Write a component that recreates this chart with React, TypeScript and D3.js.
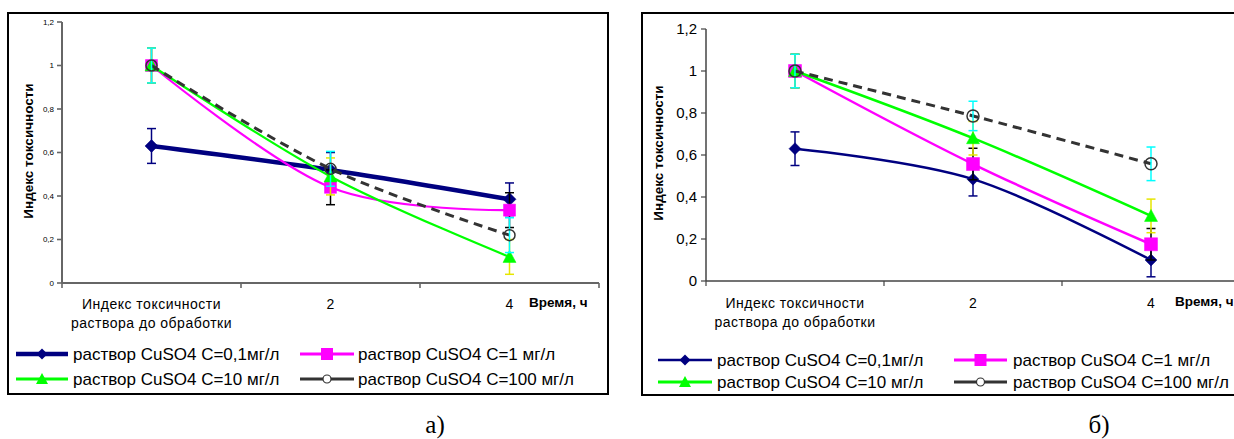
import React from "react";
import * as d3 from "d3";

// ---------- data ----------
const categories = ["Индекс токсичности|раствора до обработки", "2", "4"];
const seriesNames = [
  "раствор CuSO4 C=0,1мг/л",
  "раствор CuSO4 C=1 мг/л",
  "раствор CuSO4 C=10 мг/л",
  "раствор CuSO4 C=100 мг/л",
];
const yTicks = [0, 0.2, 0.4, 0.6, 0.8, 1, 1.2];
const yTickLabels = ["0", "0,2", "0,4", "0,6", "0,8", "1", "1,2"];
const yAxisTitle = "Индекс токсичности";
const xAxisTitle = "Время, ч";

// chart а)
const a_c01 = [0.63, 0.52, 0.385];
const a_c1 = [1.0, 0.44, 0.335];
const a_c10 = [1.0, 0.49, 0.12];
const a_c100 = [1.0, 0.525, 0.22];
const a_err01 = [0.08, 0.08, 0.075];
const a_err1 = [0.08, 0.08, 0.08];
const a_err10 = [0.08, 0.085, 0.08];
const a_err100 = [0.08, 0.08, 0.08];

// chart б)
const b_c01 = [0.63, 0.485, 0.1];
const b_c1 = [1.0, 0.557, 0.175];
const b_c10 = [1.0, 0.68, 0.31];
const b_c100 = [1.0, 0.786, 0.558];
const b_err01 = [0.08, 0.08, 0.08];
const b_err1 = [0.08, 0.075, 0.075];
const b_err10 = [0.08, 0.08, 0.08];
const b_err100 = [0.08, 0.07, 0.08];

const captions = ["а)", "б)"];

// ---------- styles ----------
const lineColors = ["#000080", "#FF00FF", "#00FF00", "#333333"];
const errColors = ["#000080", "#000000", "#E6E600", "#00FFFF"];
const markerKinds = ["diamond", "square", "triangle", "circle"];
const FONT = "'Liberation Sans', Arial, sans-serif";
const SERIF = "'Liberation Serif', 'Times New Roman', serif";

function markerPath(kind: string, s: number): string {
  if (kind === "diamond") return `M0,${-s}L${s},0L0,${s}L${-s},0Z`;
  if (kind === "square") return `M${-s},${-s}H${s}V${s}H${-s}Z`;
  if (kind === "triangle") return `M0,${-s}L${s},${s * 0.85}L${-s},${s * 0.85}Z`;
  return "";
}

function Marker({ kind, x, y, s, color }: any) {
  if (kind === "circle") {
    return <circle cx={x} cy={y} r={s} fill="none" stroke="#333333" strokeWidth={1.5} />;
  }
  return <path d={markerPath(kind, s)} transform={`translate(${x},${y})`} fill={color} stroke={color} strokeWidth={0.5} />;
}

function Chart({ L, series, errors }: any) {
  const x = d3.scaleBand<number>().domain([0, 1, 2]).range([L.x0, L.x1]).padding(0);
  const y = d3.scaleLinear().domain([0, 1.2]).range([L.yBottom, L.yTop]);
  const bw = x.bandwidth();
  const cx = (i: number) => (x(i) as number) + bw / 2;
  const line = d3
    .line<number>()
    .x((_, i) => cx(i))
    .y((d) => y(d))
    .curve(d3.curveCardinal.tension(0));
  const boundaries = [0, 1, 2, 3].map((i) => L.x0 + i * bw);
  const [fx, fy, fw, fh] = L.frame;
  const msz = [L.mDiamond, L.mSquare, L.mTriangle, L.mCircle];

  return (
    <g>
      <rect x={fx} y={fy} width={fw} height={fh} fill="#fff" stroke="#000" strokeWidth={2} />
      {/* y axis */}
      <line x1={L.x0} x2={L.x0} y1={y(1.2)} y2={y(0)} stroke={L.axisColor} strokeWidth={L.axisWidth} />
      {yTicks.map((t, i) => (
        <g key={i}>
          <line x1={L.x0 - 5} x2={L.x0} y1={y(t)} y2={y(t)} stroke={L.axisColor} strokeWidth={L.axisWidth * 0.8} />
          <text x={L.tickLabelX} y={y(t)} dy="0.35em" textAnchor="end" fontFamily={FONT} fontSize={L.tickFont} fill="#000">
            {yTickLabels[i]}
          </text>
        </g>
      ))}
      {/* x axis */}
      <line x1={L.x0} x2={L.x1} y1={y(0)} y2={y(0)} stroke={L.axisColor} strokeWidth={L.axisWidth} />
      {boundaries.map((b, i) => (
        <line key={i} x1={b} x2={b} y1={y(0)} y2={y(0) + 5} stroke={L.axisColor} strokeWidth={L.axisWidth * 0.8} />
      ))}
      {categories.map((c, i) =>
        c.split("|").map((ln, j) => (
          <text key={`${i}-${j}`} x={cx(i)} y={j === 0 ? L.catY1 : L.catY2} dy="0.35em" textAnchor="middle"
            fontFamily={FONT} fontSize={L.catFont} letterSpacing={i === 0 ? 0.5 : 0} fill="#000">
            {ln}
          </text>
        ))
      )}
      <text x={L.xTitleX} y={L.catY1 - 2} dy="0.35em" fontFamily={FONT} fontSize={L.titleFont} fontWeight="bold" fill="#000">
        {xAxisTitle}
      </text>
      <text transform={`translate(${L.yTitle[0]},${L.yTitle[1]}) rotate(-90)`} textAnchor="middle" dy="0.35em"
        fontFamily={FONT} fontSize={L.titleFont} fontWeight="bold" fill="#000">
        {yAxisTitle}
      </text>
      {/* series */}
      {series.map((vals: number[], si: number) => (
        <g key={si}>
          <path d={line(vals) as string} fill="none" stroke={lineColors[si]}
            strokeWidth={si === 0 ? L.blueWidth : si === 3 ? L.dashWidth : L.otherWidth}
            strokeDasharray={si === 3 ? "9,6" : undefined} />
          {vals.map((v, i) => {
            const e = errors[si][i];
            const px = cx(i);
            return (
              <g key={i} stroke={errColors[si]} strokeWidth={1.5}>
                <line x1={px} x2={px} y1={y(v + e)} y2={y(v - e)} />
                <line x1={px - 4.5} x2={px + 4.5} y1={y(v + e)} y2={y(v + e)} />
                <line x1={px - 4.5} x2={px + 4.5} y1={y(v - e)} y2={y(v - e)} />
              </g>
            );
          })}
          {vals.map((v, i) => (
            <Marker key={`m${i}`} kind={markerKinds[si]} x={cx(i)} y={y(v)} s={msz[si]} color={lineColors[si]} />
          ))}
        </g>
      ))}
      {/* legend */}
      {seriesNames.map((name, si) => {
        const col = L.legendCols[si % 2];
        const ry = L.legendRows[Math.floor(si / 2)];
        const mx = (col.l0 + col.l1) / 2;
        return (
          <g key={`lg${si}`}>
            <line x1={col.l0} x2={col.l1} y1={ry} y2={ry} stroke={lineColors[si]}
              strokeWidth={si === 0 ? L.blueWidth : 3} />
            {markerKinds[si] === "circle" ? (
              <circle cx={mx} cy={ry} r={4} fill="#fff" stroke="#333" strokeWidth={1.2} />
            ) : (
              <path d={markerPath(markerKinds[si], si === 0 ? 5.5 : 6)} transform={`translate(${mx},${ry})`} fill={lineColors[si]} />
            )}
            <text x={col.tx} y={ry} dy="0.35em" fontFamily={FONT} fontSize={L.legendFont} fill="#000">
              {name}
            </text>
          </g>
        );
      })}
    </g>
  );
}

const layoutA = {
  frame: [8, 13, 600, 381],
  x0: 62, x1: 599, yTop: 22, yBottom: 283,
  tickFont: 8, tickLabelX: 54, axisColor: "#666", axisWidth: 2,
  yTitle: [28, 151], titleFont: 13.5, xTitleX: 529,
  catY1: 304, catY2: 323, catFont: 14,
  legendRows: [354, 379], legendFont: 17,
  legendCols: [{ l0: 16, l1: 68, tx: 73 }, { l0: 300, l1: 354, tx: 358 }],
  blueWidth: 4.5, otherWidth: 2.2, dashWidth: 3,
  mDiamond: 6.5, mSquare: 6, mTriangle: 6.5, mCircle: 5.5,
};

const layoutB = {
  frame: [642, 13, 640, 382],
  x0: 706, x1: 1240, yTop: 29, yBottom: 281,
  tickFont: 15, tickLabelX: 697, axisColor: "#444", axisWidth: 1.5,
  yTitle: [658, 153], titleFont: 13.5, xTitleX: 1175,
  catY1: 303, catY2: 322, catFont: 14,
  legendRows: [360, 382], legendFont: 17,
  legendCols: [{ l0: 658, l1: 712, tx: 717 }, { l0: 954, l1: 1007, tx: 1013 }],
  blueWidth: 2.5, otherWidth: 2.5, dashWidth: 3,
  mDiamond: 6, mSquare: 6.5, mTriangle: 6.5, mCircle: 6,
};

export default function App() {
  return (
    <svg width={1234} height={439} style={{ position: "absolute", left: 0, top: 0, background: "#fff" }}>
      <rect x={0} y={0} width={1234} height={439} fill="#fff" />
      <Chart L={layoutA} series={[a_c01, a_c1, a_c10, a_c100]} errors={[a_err01, a_err1, a_err10, a_err100]} />
      <Chart L={layoutB} series={[b_c01, b_c1, b_c10, b_c100]} errors={[b_err01, b_err1, b_err10, b_err100]} />
      <text x={435} y={433} textAnchor="middle" fontFamily={SERIF} fontSize={25} fill="#000">{captions[0]}</text>
      <text x={1099} y={433} textAnchor="middle" fontFamily={SERIF} fontSize={25} fill="#000">{captions[1]}</text>
    </svg>
  );
}
